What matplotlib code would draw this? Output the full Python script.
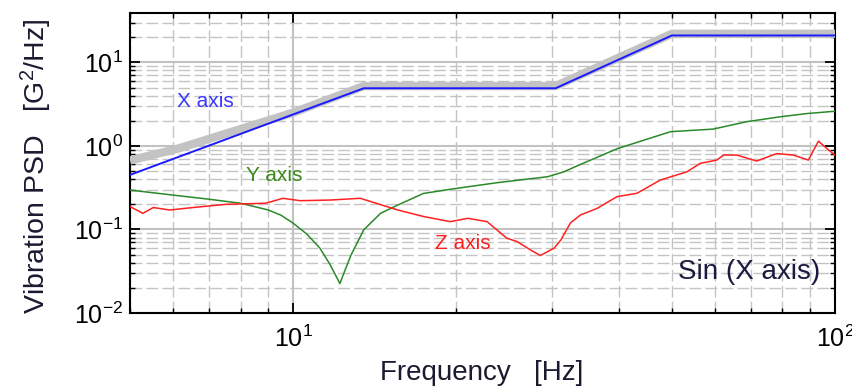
import numpy as np
import matplotlib
matplotlib.use("Agg")
import matplotlib.pyplot as plt
from matplotlib.ticker import LogLocator, NullFormatter

plt.rcParams['font.family'] = ['Liberation Sans', 'DejaVu Sans']
plt.rcParams['mathtext.fontset'] = 'custom'
plt.rcParams['mathtext.rm'] = 'Liberation Sans'
plt.rcParams['mathtext.it'] = 'Liberation Sans:italic'
plt.rcParams['mathtext.bf'] = 'Liberation Sans:bold'

# ---- data ----
# sine sweep reference level (thick grey)
freq_ref = [5, 6.1, 10, 13.5, 30.5, 50, 100]
psd_ref = [0.67, 0.92, 2.5, 5.2, 5.2, 22, 22]

# X axis (blue)
freq_x = [5, 13.5, 30.5, 50, 100]
psd_x = [0.45, 4.9, 4.9, 21, 21]

# Y axis (green)
freq_y = [5, 6, 7, 8, 9, 9.5, 10, 10.6, 11.2, 11.7, 12.2, 12.5, 12.8, 13.5,
          14.5, 15.6, 17.4, 20, 23.8, 29.5, 31.6, 33.9, 39.7, 49.7, 59.6, 68.7,
          79.2, 88.7, 100]
psd_y = [0.296, 0.258, 0.23, 0.206, 0.171, 0.148, 0.119, 0.088, 0.060, 0.038,
         0.0225, 0.034, 0.050, 0.099, 0.156, 0.196, 0.27, 0.31, 0.363, 0.428,
         0.49, 0.6, 0.93, 1.48, 1.59, 1.95, 2.23, 2.44, 2.6]

# Z axis (red)
freq_z = [5.0, 5.28, 5.52, 5.92, 6.53, 7.53, 8.9, 9.58, 10.3, 11.7, 13.3, 13.9,
          15.6, 17.4, 19.5, 21.0, 22.8, 24.8, 25.9, 27.4, 28.6, 30.3, 31.2, 32.5,
          33.9, 36.4, 39.6, 43.1, 47.6, 53.3, 56.4, 60.5, 62.3, 65.9, 71.7, 78.1,
          83.8, 89.3, 93.2, 96.6, 100]
psd_z = [0.188, 0.156, 0.183, 0.171, 0.183, 0.2, 0.206, 0.236, 0.221, 0.225,
         0.236, 0.216, 0.171, 0.143, 0.124, 0.136, 0.124, 0.0785, 0.0717, 0.057,
         0.0488, 0.0596, 0.075, 0.12, 0.149, 0.179, 0.247, 0.271, 0.39, 0.49,
         0.618, 0.677, 0.777, 0.777, 0.659, 0.81, 0.777, 0.677, 1.14, 0.93, 0.777]

fig = plt.figure(figsize=(8.53, 3.89), dpi=100)
ax = fig.add_axes([130/853, 1-313/389, 705/853, 300/389])

ax.plot(freq_ref, psd_ref, color='#c3c3c3', lw=6, solid_capstyle='butt', zorder=3)
ax.plot(freq_x, psd_x, color='#1a1aff', lw=1.4, zorder=4)
ax.plot(freq_y, psd_y, color='#2a8a2a', lw=1.1, zorder=4)
ax.plot(freq_z, psd_z, color='#ff2020', lw=1.1, zorder=4)

ax.set_xscale('log')
ax.set_yscale('log')
ax.set_xlim(5, 100)
ax.set_ylim(0.01, 39)

ax.yaxis.set_major_locator(LogLocator(base=10, numticks=10))
ax.yaxis.set_minor_locator(LogLocator(base=10, subs=np.arange(2, 10), numticks=20))
ax.yaxis.set_minor_formatter(NullFormatter())
ax.xaxis.set_minor_formatter(NullFormatter())

ax.grid(True, which='major', color='#c2c2c2', lw=1.5, ls='-', zorder=0)
ax.grid(True, which='minor', color='#c4c4c4', lw=1.0, ls=(0, (8.5, 3)), zorder=0)
ax.set_axisbelow(True)

ax.tick_params(which='both', direction='in', top=True, right=True,
               color='black', labelsize=18)
ax.tick_params(which='major', length=7, width=1.3)
ax.tick_params(which='minor', length=3.8, width=1.0)
ax.tick_params(axis='x', which='major', pad=9)
ax.tick_params(axis='y', which='major', pad=5)
for s in ax.spines.values():
    s.set_linewidth(1.5)
    s.set_color('black')

ax.text(6.1, 3.4, 'X axis', color='#3a3aff', fontsize=15, va='center', ha='left')
ax.text(8.2, 0.44, 'Y axis', color='#3a8a1a', fontsize=15, va='center', ha='left')
ax.text(18.3, 0.068, 'Z axis', color='#ff2020', fontsize=15, va='center', ha='left')
ax.text(0.979, 0.137, 'Sin (X axis)', color='#1a1a40', fontsize=20,
        transform=ax.transAxes, ha='right', va='center', zorder=5)

fig.text(482/853, 1-373/389, 'Frequency   [Hz]', fontsize=20,
         ha='center', va='center', color='#1a1a30')
fig.text(36/853, 1-166/389, 'Vibration PSD   [G$^2$/Hz]', fontsize=20.5,
         rotation=90, ha='center', va='center', color='#1a1a30')

fig.savefig('out.png', dpi=100)
